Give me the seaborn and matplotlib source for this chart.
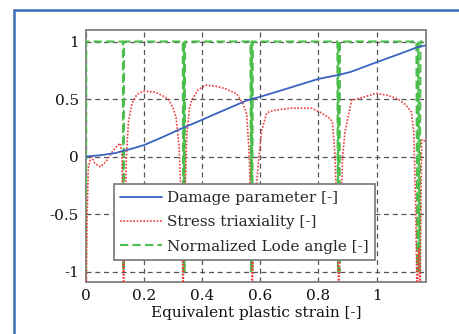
import matplotlib
matplotlib.use("Agg")
import matplotlib.pyplot as plt
import seaborn as sns
import numpy as np
from matplotlib.lines import Line2D

sns.set_theme(style="white")
plt.rcParams['font.family'] = ['DejaVu Serif']
plt.rcParams['axes.unicode_minus'] = False

# Damage parameter
damage_x = [0, 0.05, 0.10, 0.13, 0.16, 0.20, 0.26, 0.33, 0.40, 0.44, 0.50, 0.553, 0.57,
            0.60, 0.70, 0.80, 0.87, 0.91, 1.00, 1.08, 1.14, 1.167]
damage_y = [0, 0.012, 0.03, 0.05, 0.07, 0.10, 0.165, 0.245, 0.32, 0.365, 0.43, 0.487, 0.50,
            0.52, 0.597, 0.675, 0.71, 0.735, 0.82, 0.893, 0.95, 0.965]

# Stress triaxiality
triax_x = [0, 0.004, 0.008, 0.018, 0.03, 0.05, 0.07, 0.09, 0.11, 0.118, 0.124, 0.129,
           0.134, 0.139, 0.146, 0.158, 0.175, 0.197, 0.238, 0.262, 0.283, 0.300, 0.310,
           0.320, 0.328, 0.334, 0.340, 0.347, 0.356, 0.364, 0.385, 0.413, 0.45, 0.479,
           0.519, 0.540, 0.553, 0.562, 0.568, 0.572, 0.578, 0.585, 0.595, 0.605, 0.622,
           0.644, 0.702, 0.777, 0.81, 0.84, 0.848, 0.857, 0.864, 0.870, 0.876, 0.883,
           0.891, 0.914, 0.96, 0.998, 1.04, 1.074, 1.10, 1.12, 1.128, 1.134, 1.139,
           1.145, 1.150, 1.155, 1.160, 1.167]
triax_y = [-1.2, -0.5, -0.1, 0.01, -0.06, -0.09, -0.04, 0.04, 0.10, 0.115, 0.0, -1.2,
           -0.6, 0.0, 0.3, 0.46, 0.54, 0.57, 0.56, 0.53, 0.50, 0.42, 0.34,
           0.1, -0.4, -1.2, -0.4, 0.2, 0.42, 0.49, 0.58, 0.62, 0.61, 0.59,
           0.545, 0.46, 0.37, 0.0, -0.6, -1.2, -0.6, -0.3, 0.0, 0.23, 0.38,
           0.40, 0.42, 0.42, 0.38, 0.33, 0.30, 0.0, -0.6, -1.2, -0.6, 0.0,
           0.21, 0.49, 0.52, 0.55, 0.53, 0.50, 0.45, 0.385, 0.2, -0.4, -1.2,
           -0.8, -1.2, 0.14, 0.15, 0.13]

# Normalized Lode angle
lode_x = [0, 0.0005, 0.127, 0.129, 0.131, 0.333, 0.335, 0.337, 0.339, 0.341,
          0.566, 0.568, 0.570, 0.572, 0.574, 0.865, 0.867, 0.869, 0.872, 0.874,
          1.137, 1.140, 1.143, 1.148, 1.151, 1.167]
lode_y = [-1, 1, 1, -1, 1, 1, -1, 1, -1, 1,
          1, -1, 1, -1, 1, 1, -1, 1, -1, 1,
          1, -1, 1, -1, 1, 1]

xticks = [0, 0.2, 0.4, 0.6, 0.8, 1]
xticklabels = ["0", "0.2", "0.4", "0.6", "0.8", "1"]
yticks = [-1, -0.5, 0, 0.5, 1]
yticklabels = ["-1", "-0.5", "0", "0.5", "1"]

W, H = 459, 334
fig = plt.figure(figsize=(W / 100, H / 100), dpi=100)
fig.patch.set_facecolor("white")
ax = fig.add_axes([86 / W, 1 - 282.3 / H, (426 - 86) / W, (282.3 - 30) / H])

GREEN = "#4cbe4c"
RED = "#f03c3c"
BLUE = "#3b64c2"

sns.lineplot(x=lode_x, y=lode_y, ax=ax, sort=False, estimator=None,
             color=GREEN, lw=1.5, label="Normalized Lode angle [-]", zorder=3)
sns.lineplot(x=triax_x, y=triax_y, ax=ax, sort=False, estimator=None,
             color=RED, lw=1.2, label="Stress triaxiality [-]", zorder=4)
sns.lineplot(x=damage_x, y=damage_y, ax=ax, sort=False, estimator=None,
             color=BLUE, lw=1.3, label="Damage parameter [-]", zorder=5)
lines = ax.get_lines()
lines[0].set_dashes([4, 2])
lines[1].set_dashes([1, 1])

ax.set_xlim(0, 1.17)
ax.set_ylim(-1.093, 1.1)
ax.set_xticks(xticks)
ax.set_xticklabels(xticklabels)
ax.set_yticks(yticks)
ax.set_yticklabels(yticklabels)
ax.tick_params(length=0, labelsize=11, colors="#111111", pad=5)
ax.grid(True, color="#555555", lw=0.9, linestyle=(0, (4, 3)))
for s in ax.spines.values():
    s.set_color("#808080")
    s.set_linewidth(1.3)
ax.set_xlabel("Equivalent plastic strain [-]", fontsize=11, color="#111111", labelpad=2)
ax.set_ylabel("")

handles = [Line2D([], [], color=BLUE, lw=1.3),
           Line2D([], [], color=RED, lw=1.2, dashes=[1, 1]),
           Line2D([], [], color=GREEN, lw=1.5, dashes=[4, 2])]
labels = ["Damage parameter [-]", "Stress triaxiality [-]", "Normalized Lode angle [-]"]
leg = ax.legend(handles, labels, loc="lower left", bbox_to_anchor=(0.082, 0.088),
                fontsize=11, frameon=True, fancybox=False, framealpha=1,
                edgecolor="#808080", handlelength=2.7, handletextpad=0.35,
                borderpad=0.43, labelspacing=0.67, borderaxespad=0)
leg.get_frame().set_linewidth(1.3)

# blue outer frame
fig.add_artist(Line2D([14 / W, 14 / W], [0, 1 - 10 / H], transform=fig.transFigure,
                      color="#3a6db5", lw=1.8))
fig.add_artist(Line2D([14 / W, 1], [1 - 10 / H, 1 - 10 / H], transform=fig.transFigure,
                      color="#3a6db5", lw=1.8))

fig.savefig("out.png", dpi=100)
